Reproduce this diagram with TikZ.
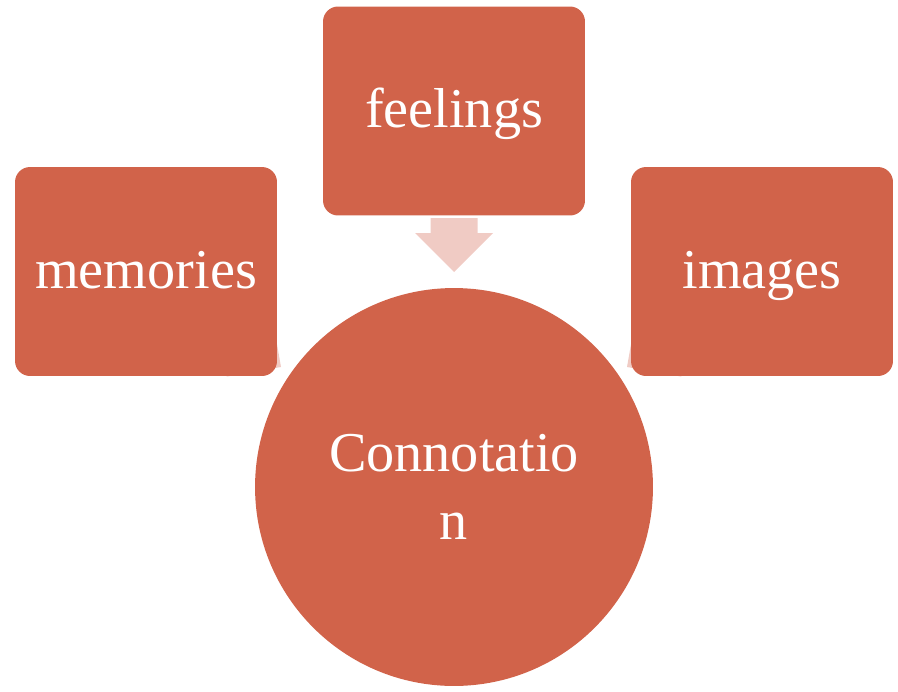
\documentclass[tikz,border=0pt]{standalone}
\usepackage{fontspec}
\setmainfont{Liberation Serif}
\usepackage{tikz}
\usepackage{xcolor}
\definecolor{boxred}{RGB}{209,99,74}
\definecolor{arrowpink}{RGB}{240,203,196}

\begin{document}
\begin{tikzpicture}[x=0.02cm, y=0.02cm,
    topic/.style={rectangle, rounded corners=0.3cm, fill=boxred, text=white,
        minimum width=5.24cm, minimum height=4.18cm, inner sep=0pt,
        font=\fontsize{32}{39}\selectfont, text height=19.3pt, text depth=0pt},
    centre/.style={circle, fill=boxred, text=white, minimum size=7.96cm,
        inner sep=0pt, align=center, font=\fontsize{32}{39}\selectfont},
    blockarrow/.style={fill=arrowpink}]

\useasboundingbox (0,0) rectangle (898,691);

% =====================
% Converging arrows (behind the shapes)
% =====================
\foreach \tx/\ty/\ang in {454/419/-90, 281/324/-35, 627/324/-145} {
    \fill[blockarrow, shift={(\tx,\ty)}, rotate=\ang]
        (0,0) -- (-39,39) -- (-39,23.5) -- (-54,23.5)
        -- (-54,-23.5) -- (-39,-23.5) -- (-39,-39) -- cycle;
}

% =====================
% Outer boxes
% =====================
\node[topic] (memories) at (146,419.5) {memories};
\node[topic] (feelings) at (454,580) {feelings};
\node[topic] (images)   at (762,419.5) {images};

% =====================
% Centre circle
% =====================
\node[centre] (connotation) at (454,204) {Connotatio\\n};

\end{tikzpicture}
\end{document}
